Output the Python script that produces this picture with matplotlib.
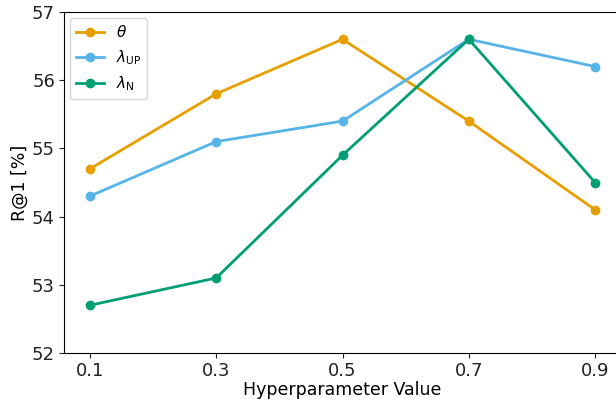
import matplotlib.pyplot as plt

# Valores
hiper = [0.1, 0.3, 0.5, 0.7, 0.9]
theta = [54.7, 55.8, 56.6, 55.4, 54.1]
lambda_up = [54.3, 55.1, 55.4, 56.6, 56.2]
lambda_n = [52.7, 53.1, 54.9, 56.6, 54.5]

fig = plt.figure(figsize=(6.16, 4.0), dpi=100)
ax = fig.add_axes([64 / 616, 47 / 400, 557 / 616, 341 / 400])

ax.plot(hiper, theta, 'o-', color='#E69F00', lw=2, ms=6, label=r'$\theta$')
ax.plot(hiper, lambda_up, 'o-', color='#56B4E9', lw=2, ms=6, label=r'$\lambda_{\mathrm{UP}}$')
ax.plot(hiper, lambda_n, 'o-', color='#009E73', lw=2, ms=6, label=r'$\lambda_{\mathrm{N}}$')

ax.set_xlim(0.059, 0.941)
ax.set_ylim(52, 57)
ax.set_xticks(hiper)
ax.set_xticklabels(['0.1', '0.3', '0.5', '0.7', '0.9'])
ax.tick_params(labelsize=13, colors='#222222', pad=3)
ax.set_xlabel('Hyperparameter Value', fontsize=12.5, labelpad=1)
ax.set_ylabel('R@1 [%]', fontsize=12.5, labelpad=2)
ax.legend(loc='upper left', fontsize=11, handlelength=1.8, borderaxespad=0.4)

fig.savefig('out.png', dpi=100)
